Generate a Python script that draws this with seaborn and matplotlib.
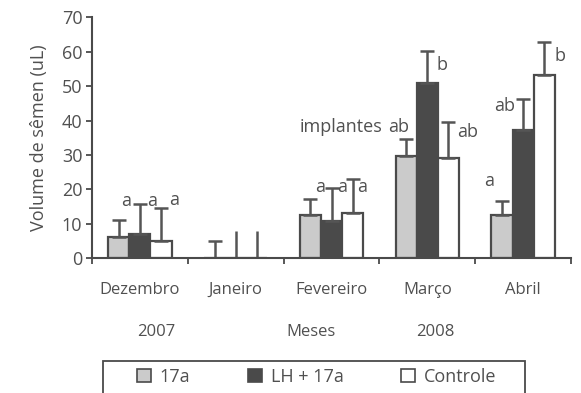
import matplotlib
matplotlib.use("Agg")
import matplotlib.pyplot as plt
import matplotlib.patches as mpatches
from matplotlib.transforms import blended_transform_factory
import seaborn as sns
import pandas as pd

months = ["Dezembro", "Janeiro", "Fevereiro", "Março", "Abril"]
groups = ["17a", "LH + 17a", "Controle"]
vals_17a = [6.1, 0.0, 12.6, 29.8, 12.6]
vals_lh = [7.0, 0.0, 10.8, 50.8, 37.3]
vals_ctrl = [5.0, 0.0, 13.3, 29.1, 53.1]
err_17a = [4.9, 5.0, 4.6, 4.8, 4.1]
err_lh = [8.8, 8.0, 9.5, 9.5, 9.0]
err_ctrl = [9.5, 8.0, 9.7, 10.4, 9.8]
colors = ["#cbcbcb", "#4a4a4a", "#ffffff"]

labels = [
    (-0.14, 16.5, "a"), (0.13, 16.5, "a"), (0.36, 17.0, "a"),
    (1.88, 20.8, "a"), (2.11, 20.8, "a"), (2.32, 20.8, "a"),
    (2.10, 38.0, "implantes"), (2.70, 38.0, "ab"),
    (3.15, 56.0, "b"), (3.42, 36.8, "ab"),
    (3.65, 22.5, "a"), (3.81, 44.1, "ab"), (4.38, 58.8, "b"),
]

df = pd.DataFrame({
    "Mês": months * 3,
    "Grupo": [g for g in groups for _ in months],
    "Volume": vals_17a + vals_lh + vals_ctrl,
})
errs = [err_17a, err_lh, err_ctrl]

sns.set_style("white")
plt.rcParams["font.family"] = ["Open Sans", "DejaVu Sans"]
txtc = "#505050"
edge = "#4a4a4a"

fig = plt.figure(figsize=(5.81, 3.93), dpi=100)
ax = fig.add_axes([92 / 581, 1 - 258.3 / 393, (571 - 92) / 581, (258.3 - 17.3) / 393])

sns.barplot(data=df, x="Mês", y="Volume", hue="Grupo", order=months,
            hue_order=groups, palette=colors, width=0.66, gap=0,
            edgecolor=edge, linewidth=1.6, errorbar=None, legend=False, ax=ax)

bar_conts = list(ax.containers)
for ci, cont in enumerate(bar_conts):
    for mi, bar in enumerate(cont.patches):
        xc = bar.get_x() + bar.get_width() / 2
        h = bar.get_height()
        cap = 0 if (mi == 1 and ci > 0) else 5
        ax.errorbar([xc], [h], yerr=[[0], [errs[ci][mi]]], fmt="none",
                    ecolor="#555555", elinewidth=1.8, capsize=cap, capthick=1.8,
                    zorder=1)

for x, y, s in labels:
    ax.text(x, y, s, ha="center", va="center", fontsize=13, color=txtc)

ax.set_xlim(-0.5, 4.5)
ax.set_ylim(0, 70)
ax.set_yticks(range(0, 71, 10))
ax.set_xticks(range(5))
ax.set_xticks([-0.5, 0.5, 1.5, 2.5, 3.5, 4.5], minor=True)
ax.tick_params(axis="x", which="major", length=0, pad=17, labelsize=12, labelcolor=txtc)
ax.tick_params(axis="x", which="minor", length=4, width=1.3, color=edge, direction="out")
ax.tick_params(axis="y", length=4, width=1.3, color=edge, direction="out",
               labelsize=13, labelcolor=txtc, pad=3)
ax.tick_params(axis="x", which="minor", bottom=True)
ax.tick_params(axis="y", left=True)
ax.set_xlabel("")
ax.set_ylabel("Volume de sêmen (uL)", fontsize=13, color=txtc, labelpad=10)
for s in ["top", "right"]:
    ax.spines[s].set_visible(False)
for s in ["left", "bottom"]:
    ax.spines[s].set_color(edge)
    ax.spines[s].set_linewidth(1.5)

tr = blended_transform_factory(ax.transData, ax.transAxes)
for x, s in [(0.17, "2007"), (1.79, "Meses"), (3.08, "2008")]:
    ax.text(x, -0.305, s, transform=tr, ha="center", va="center",
            fontsize=12, color=txtc)

handles = [mpatches.Patch(facecolor=c, edgecolor=edge, linewidth=1.2) for c in colors]
leg = fig.legend(handles, groups, ncol=3, loc="center left",
                 bbox_to_anchor=(121 / 581, 1 - 376.5 / 393), frameon=False,
                 fontsize=13, handlelength=0.75, handleheight=0.75,
                 handletextpad=0.5, columnspacing=3.2, labelcolor=txtc)
fig.patches.append(mpatches.Rectangle((103.3 / 581, -0.05), (525 - 103.3) / 581,
                                      (1 - 360.7 / 393) + 0.05, transform=fig.transFigure,
                                      fill=False, edgecolor=edge, linewidth=1.3))

fig.savefig("out.png", dpi=100)
